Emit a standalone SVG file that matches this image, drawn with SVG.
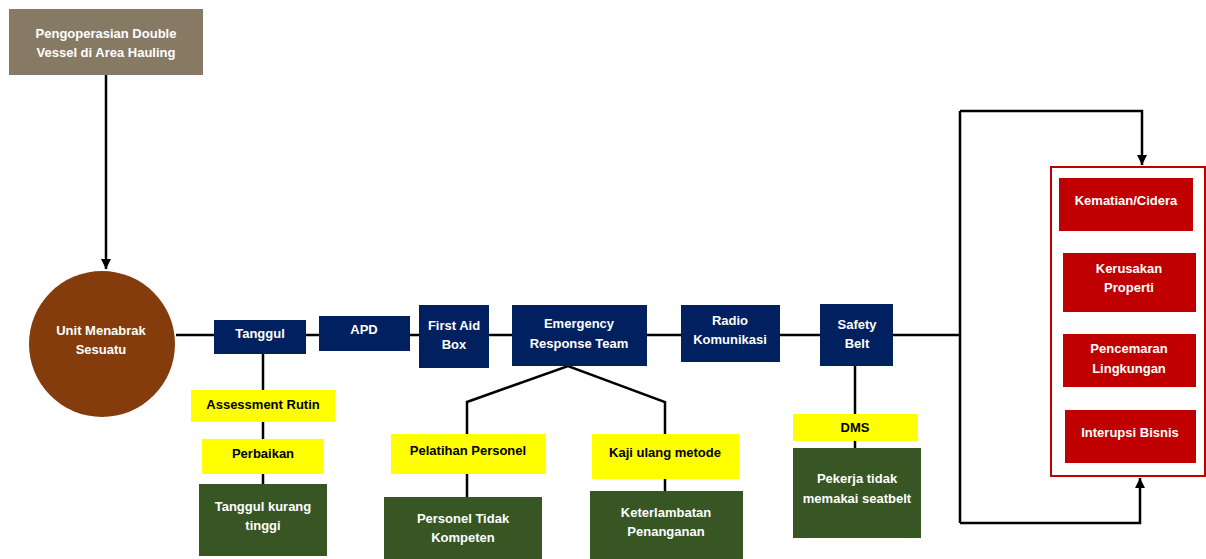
<svg xmlns="http://www.w3.org/2000/svg" width="1206" height="559" viewBox="0 0 1206 559">
<defs>
<style>
.t{font-family:"Liberation Sans",Arial,sans-serif;font-weight:bold;font-size:13px;text-anchor:middle}
.w{fill:#ffffff}
.k{fill:#000000}
.blue{fill:#002060}
.yel{fill:#ffff00}
.grn{fill:#375623}
.red{fill:#c00000}
.ln{stroke:#000;stroke-width:2.5;fill:none}
</style>
<marker id="ah" viewBox="0 0 10 10" refX="10" refY="5" markerWidth="4" markerHeight="4" orient="auto" markerUnits="strokeWidth">
<path d="M0,0 L10,5 L0,10 z" fill="#000"/>
</marker>
</defs>
<rect width="1206" height="559" fill="#ffffff"/>
<g id="connectors">
<line class="ln" x1="106" y1="75" x2="106" y2="269" marker-end="url(#ah)"/>
<line class="ln" x1="176" y1="335" x2="960" y2="335"/>
<line class="ln" x1="263" y1="354" x2="263" y2="484"/>
<polyline class="ln" points="467,434 467,402 568,366 665,402 665,434"/>
<line class="ln" x1="467" y1="474" x2="467" y2="497"/>
<line class="ln" x1="665" y1="479" x2="665" y2="491"/>
<line class="ln" x1="855" y1="366" x2="855" y2="448"/>
<line class="ln" x1="960" y1="111" x2="960" y2="523"/>
<polyline class="ln" points="960,111 1142,111 1142,165" marker-end="url(#ah)"/>
<polyline class="ln" points="960,523 1140,523 1140,478" marker-end="url(#ah)"/>
</g>
<g id="n-top"><rect x="9" y="9" width="194" height="66" fill="#877a64"/><text class="t w" x="106" y="38">Pengoperasian Double</text><text class="t w" x="106" y="57">Vessel di Area Hauling</text></g>
<g id="n-unit"><circle cx="102" cy="344" r="73" fill="#843c0c"/><text class="t w" x="101" y="335">Unit Menabrak</text><text class="t w" x="101" y="354">Sesuatu</text></g>
<g id="n-tanggul"><rect class="blue" x="214" y="320" width="92" height="34"/><text class="t w" x="260" y="338">Tanggul</text></g>
<g id="n-apd"><rect class="blue" x="319" y="316" width="91" height="35"/><text class="t w" x="364" y="334">APD</text></g>
<g id="n-firstaid"><rect class="blue" x="419" y="305" width="70" height="63"/><text class="t w" x="454" y="330">First Aid</text><text class="t w" x="454" y="349">Box</text></g>
<g id="n-ert"><rect class="blue" x="512" y="305" width="135" height="61"/><text class="t w" x="579" y="328">Emergency</text><text class="t w" x="579" y="348">Response Team</text></g>
<g id="n-radio"><rect class="blue" x="681" y="305" width="99" height="57"/><text class="t w" x="730" y="325">Radio</text><text class="t w" x="730" y="344">Komunikasi</text></g>
<g id="n-safety"><rect class="blue" x="820" y="304" width="73" height="62"/><text class="t w" x="857" y="329">Safety</text><text class="t w" x="857" y="348">Belt</text></g>
<g id="n-assess"><rect class="yel" x="191" y="390" width="144" height="32"/><text class="t k" x="263" y="409">Assessment Rutin</text></g>
<g id="n-perbaikan"><rect class="yel" x="202" y="439" width="122" height="35"/><text class="t k" x="263" y="458">Perbaikan</text></g>
<g id="n-tkt"><rect class="grn" x="199" y="484" width="128" height="72"/><text class="t w" x="263" y="511">Tanggul kurang</text><text class="t w" x="263" y="530">tinggi</text></g>
<g id="n-pelatihan"><rect class="yel" x="391" y="434" width="155" height="40"/><text class="t k" x="468" y="455">Pelatihan Personel</text></g>
<g id="n-kaji"><rect class="yel" x="592" y="434" width="147" height="45"/><text class="t k" x="665" y="457">Kaji ulang metode</text></g>
<g id="n-ptk"><rect class="grn" x="384" y="497" width="158" height="62"/><text class="t w" x="463" y="523">Personel Tidak</text><text class="t w" x="463" y="542">Kompeten</text></g>
<g id="n-ket"><rect class="grn" x="590" y="491" width="153" height="68"/><text class="t w" x="666" y="517">Keterlambatan</text><text class="t w" x="666" y="536">Penanganan</text></g>
<g id="n-dms"><rect class="yel" x="793" y="414" width="125" height="27"/><text class="t k" x="855" y="432">DMS</text></g>
<g id="n-pekerja"><rect class="grn" x="793" y="448" width="128" height="90"/><text class="t w" x="857" y="483">Pekerja tidak</text><text class="t w" x="857" y="503">memakai seatbelt</text></g>
<g id="n-outcomes"><rect x="1051" y="167" width="154" height="309" fill="none" stroke="#c00000" stroke-width="2"/></g>
<g id="n-kematian"><rect class="red" x="1059" y="178" width="134" height="53"/><text class="t w" x="1126" y="205">Kematian/Cidera</text></g>
<g id="n-kerusakan"><rect class="red" x="1063" y="253" width="133" height="59"/><text class="t w" x="1129" y="273">Kerusakan</text><text class="t w" x="1129" y="292">Properti</text></g>
<g id="n-pencemaran"><rect class="red" x="1063" y="334" width="133" height="53"/><text class="t w" x="1129" y="353">Pencemaran</text><text class="t w" x="1129" y="373">Lingkungan</text></g>
<g id="n-interupsi"><rect class="red" x="1065" y="410" width="131" height="53"/><text class="t w" x="1130" y="437">Interupsi Bisnis</text></g>
</svg>
